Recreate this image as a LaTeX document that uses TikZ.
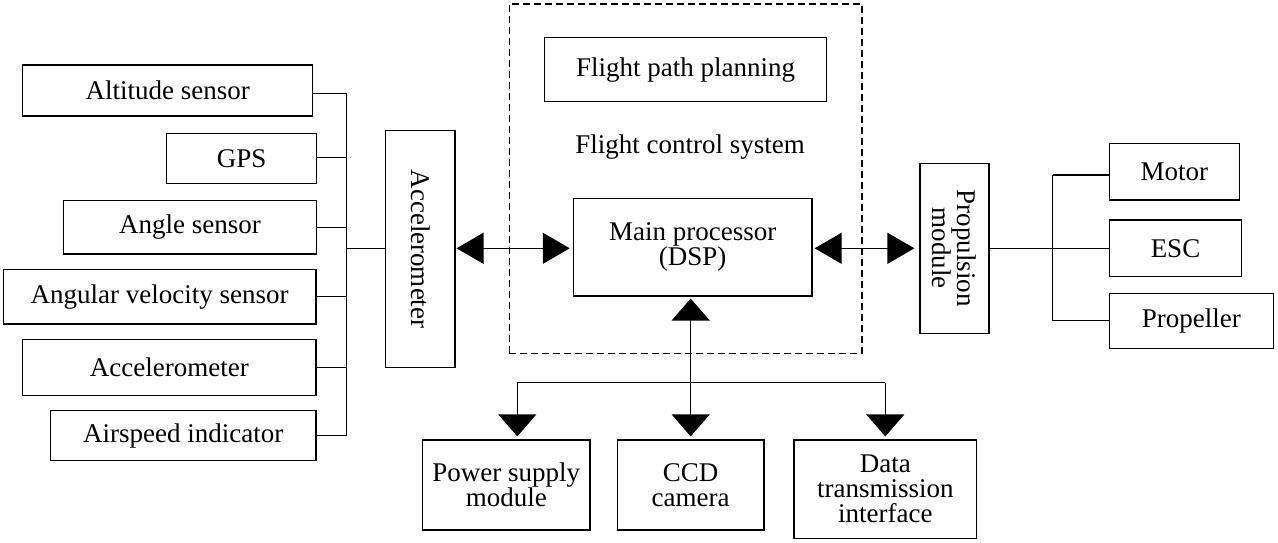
\documentclass[tikz,border=0pt]{standalone}
\usepackage{fontspec}
\setmainfont{Liberation Serif}
\usetikzlibrary{arrows.meta}
\begin{document}
\begin{tikzpicture}[x=1pt,y=-1pt,
  every node/.style={font=\fontsize{27}{25}\selectfont},
  box/.style={draw,line width=1.2pt,inner sep=0pt,align=center},
  wire/.style={line width=1.2pt},
  harr/.style={wire,{Triangle[length=27pt,width=31pt]}-{Triangle[length=27pt,width=31pt]}},
  vup/.style={wire,{Triangle[length=22pt,width=38pt]}-{Triangle[length=22pt,width=38pt]}},
  vdown/.style={wire,-{Triangle[length=22pt,width=38pt]}},
  dashbox/.style={draw,line width=1.2pt,dash pattern=on 7pt off 4pt,inner sep=0pt}]
\useasboundingbox (0,0) rectangle (1278,543);
% left sensors
\node[box,minimum width=290pt,minimum height=51pt] (alt) at (167.7,90.5) {Altitude sensor};
\node[box,minimum width=150pt,minimum height=50pt] (gps) at (241.7,158.3) {GPS};
\node[box,minimum width=253.4pt,minimum height=53.3pt] (ang) at (190,227.3) {Angle sensor};
\node[box,minimum width=312.7pt,minimum height=54.7pt] (angv) at (159.7,296.7) {Angular velocity sensor};
\node[box,minimum width=293.3pt,minimum height=56pt] (accl) at (169.3,367.3) {Accelerometer};
\node[box,minimum width=265.3pt,minimum height=50pt] (air) at (183.3,435.7) {Airspeed indicator};
\coordinate (busl) at (346.7,248.3);
% accelerometer (vertical)
\node[box,rotate=-90,minimum width=236.6pt,minimum height=69.3pt] (acc) at (420.3,249) {Accelerometer};
% flight control system
\node[dashbox,minimum width=352.7pt,minimum height=349.3pt] (fcs) at (685.7,178.7) {};
\node[box,minimum width=282.4pt,minimum height=64pt] (fpp) at (685.5,69.7) {Flight path planning};
\node (fcst) at (690,146.7) {Flight control system};
\node[box,minimum width=238.7pt,minimum height=97.3pt] (mp) at (692.7,247.3) {Main processor\\(DSP)};
% propulsion
\node[box,rotate=-90,minimum width=170pt,minimum height=69pt] (prop) at (954.5,248.3) {Propulsion\\module};
\node[box,minimum width=130pt,minimum height=56.7pt] (motor) at (1174.3,171.7) {Motor};
\node[box,minimum width=132.4pt,minimum height=56.7pt] (esc) at (1175.5,248.3) {ESC};
\node[box,minimum width=164pt,minimum height=55pt] (pro) at (1191.3,320.8) {Propeller};
\coordinate (busr) at (1052.7,248.3);
% bottom modules
\node[box,minimum width=167.3pt,minimum height=90pt] (pow) at (506.3,485) {Power supply\\module};
\node[box,minimum width=146.7pt,minimum height=90pt] (ccd) at (690.7,485) {CCD\\camera};
\node[box,minimum width=182.7pt,minimum height=98.3pt] (data) at (885.3,489.2) {Data\\transmission\\interface};
\coordinate (busb) at (690.7,382.7);
\coordinate (pbus) at (517.3,382.7);
% left bus
\draw[wire] (alt.east |- 0,93.3) -- (busl |- 0,93.3);
\draw[wire] (gps.east |- 0,157.3) -- (busl |- 0,157.3);
\draw[wire] (ang.east) -- (busl |- ang.east);
\draw[wire] (angv.east) -- (busl |- angv.east);
\draw[wire] (accl.east) -- (busl |- accl.east);
\draw[wire] (air.east) -- (busl |- air.east);
\draw[wire] (busl |- 0,93.3) -- (busl |- air.east);
\draw[wire] (busl) -- (acc.south |- busl);
% arrows to main processor
\draw[harr,shorten <=1pt,shorten >=3pt] (acc.north |- 0,248.3) -- (mp.west |- 0,248.3);
\draw[harr,shorten <=2pt,shorten >=5pt] (mp.east |- 0,248.3) -- (prop.south |- 0,248.3);
% right bus
\draw[wire] (prop.north) -- (busr);
\draw[wire] (busr |- 0,175) -- (busr |- pro.west);
\draw[wire] (busr |- 0,175) -- (motor.west |- 0,175);
\draw[wire] (busr) -- (esc.west);
\draw[wire] (busr |- pro.west) -- (pro.west);
% bottom
\draw[vup,shorten <=2pt,shorten >=3pt] (ccd.north |- mp.south) -- (ccd.north);
\draw[wire] (pbus) -- (data.north |- busb);
\draw[vdown,shorten >=3pt] (pbus) -- (pbus |- pow.north);
\draw[vdown,shorten >=3pt] (data.north |- busb) -- (data.north);
\end{tikzpicture}
\end{document}
